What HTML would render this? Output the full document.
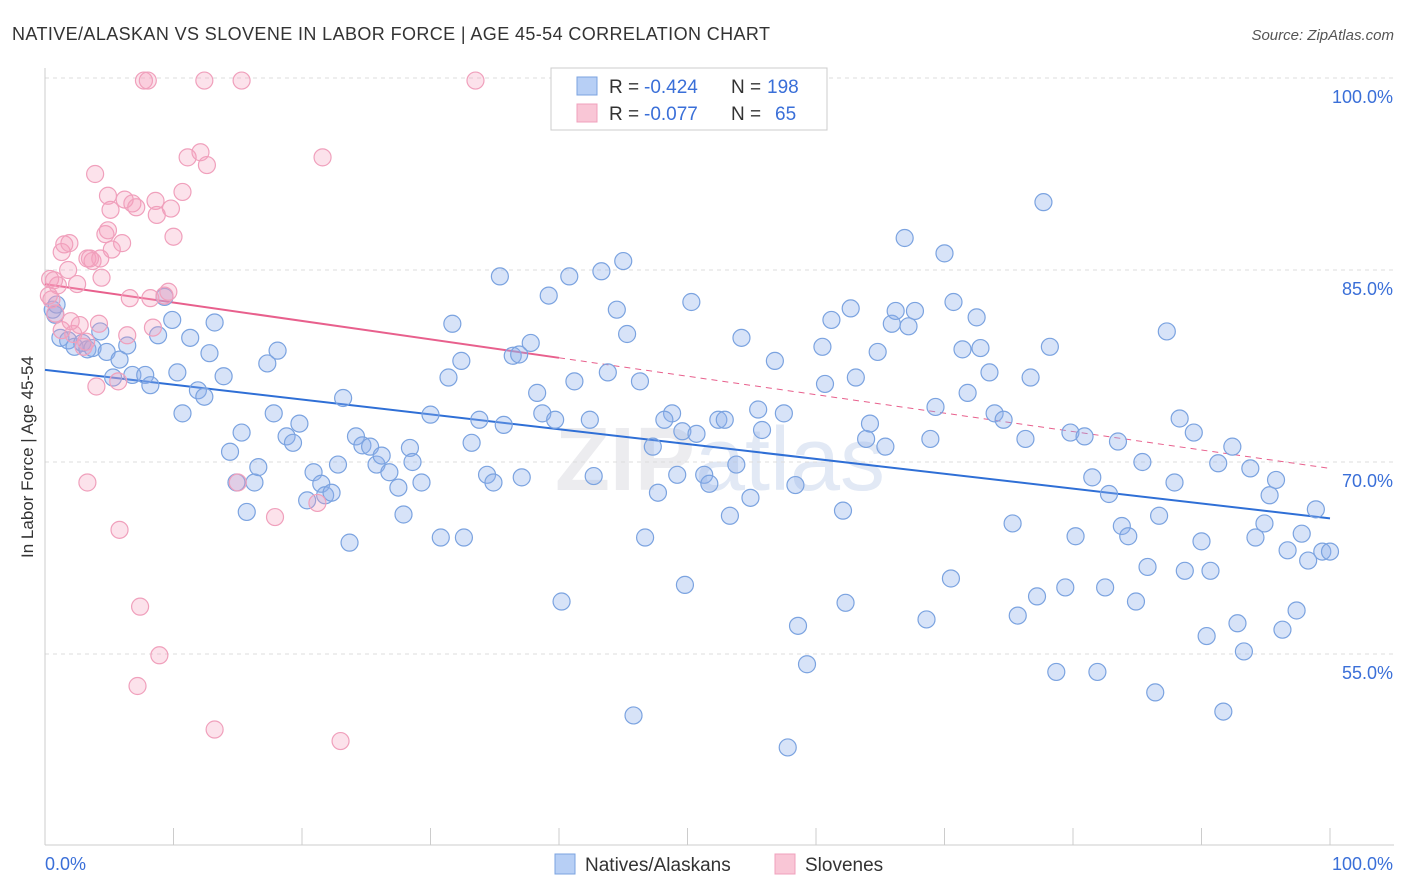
<!DOCTYPE html>
<html><head><meta charset="utf-8">
<style>
body{margin:0;background:#fff;font-family:"Liberation Sans",sans-serif;}
#wrap{position:relative;width:1406px;height:892px;overflow:hidden;}
</style></head>
<body>
<div id="wrap">
<svg id="chart" width="1406" height="892" xmlns="http://www.w3.org/2000/svg">
<text x="12" y="40" font-size="18" fill="#333" textLength="758" lengthAdjust="spacing">NATIVE/ALASKAN VS SLOVENE IN LABOR FORCE | AGE 45-54 CORRELATION CHART</text>
<text x="1394" y="40" font-size="15" fill="#555" font-style="italic" text-anchor="end">Source: ZipAtlas.com</text>
<text transform="translate(33,457) rotate(-90)" font-size="17" fill="#333" text-anchor="middle">In Labor Force | Age 45-54</text>
<text x="720" y="490" font-size="90" fill="#ececef" text-anchor="middle" font-weight="bold">ZIP<tspan font-weight="normal" fill="#e2e9f5">atlas</tspan></text>
<g id="grid"></g><g id="ticks"></g><g id="trend"></g><g id="pts"></g>
<g>
<rect x="551" y="68" width="276" height="62" fill="#fff" stroke="#ccc"/>
<rect x="577" y="77" width="20" height="18" fill="#b7cff5" stroke="#7ba3e0"/>
<rect x="577" y="104" width="20" height="18" fill="#f9c6d6" stroke="#f0a0bc"/>
<text x="609" y="93" font-size="19" fill="#333">R =</text>
<text x="644" y="93" font-size="19" fill="#3a6fd8">-0.424</text>
<text x="731" y="93" font-size="19" fill="#333">N =</text>
<text x="767" y="93" font-size="19" fill="#3a6fd8">198</text>
<text x="609" y="120" font-size="19" fill="#333">R =</text>
<text x="644" y="120" font-size="19" fill="#3a6fd8">-0.077</text>
<text x="731" y="120" font-size="19" fill="#333">N =</text>
<text x="775" y="120" font-size="19" fill="#3a6fd8">65</text>
</g>
<g>
<rect x="555" y="854" width="20" height="20" fill="#b7cff5" stroke="#7ba3e0"/>
<text x="585" y="871" font-size="19" fill="#333">Natives/Alaskans</text>
<rect x="775" y="854" width="20" height="20" fill="#f9c6d6" stroke="#f0a0bc"/>
<text x="805" y="871" font-size="19" fill="#333">Slovenes</text>
</g>
</svg>
</div>
<script>
const yTicks=[100,85,70,55];
const yTickLabels=["100.0%","85.0%","70.0%","55.0%"];
const xTickCount=10;
const xLabels=["0.0%","100.0%"];
const blueX=[0.8,1.2,1.8,2.3,2.9,3.3,3.7,4.3,4.8,5.3,5.8,6.4,6.8,7.8,8.2,8.8,9.3,9.9,10.3,10.7,11.3,11.9,12.4,13.2,12.8,13.9,14.4,14.9,15.3,15.7,16.3,16.6,17.3,18.1,17.8,18.8,19.3,19.8,20.4,20.9,21.5,21.8,22.3,22.8,23.2,23.7,24.2,24.7,25.3,25.8,26.2,26.8,27.5,27.9,28.4,28.6,29.3,30.0,30.8,31.4,31.7,32.4,32.6,33.2,33.8,34.4,34.9,35.4,35.7,36.4,36.9,37.1,37.8,38.3,38.7,39.2,39.7,40.2,40.8,41.2,42.4,42.7,43.3,43.8,44.5,45.0,45.3,45.8,46.3,46.7,47.3,47.7,48.8,48.2,49.2,49.6,49.8,50.3,50.7,51.3,51.7,52.4,52.9,53.3,53.8,54.2,54.9,55.5,55.8,56.8,57.5,57.8,58.4,58.6,59.3,60.5,60.7,61.2,62.1,62.3,62.7,63.1,63.9,64.2,64.8,65.4,65.9,66.2,66.9,67.2,67.7,68.6,68.9,69.3,70.0,70.5,70.7,71.4,71.8,72.5,72.8,73.5,73.9,74.6,75.3,75.7,76.3,76.7,77.2,77.7,78.2,78.7,79.4,79.8,80.2,80.9,81.5,81.9,82.5,82.8,83.5,83.8,84.3,84.9,85.4,85.8,86.4,86.7,87.3,87.9,88.3,88.7,89.4,90.0,90.4,90.7,91.3,91.7,92.4,92.8,93.3,93.8,94.2,94.9,95.3,95.8,96.3,96.7,97.4,97.8,98.3,98.9,99.4,100.0,0.6,0.9];
const blueY=[81.5,79.7,79.5,79.0,79.3,78.8,78.9,80.2,78.6,76.6,78.0,79.1,76.8,76.8,76.0,79.9,82.9,81.1,77.0,73.8,79.7,75.6,75.1,80.9,78.5,76.7,70.8,68.4,72.3,66.1,68.4,69.6,77.7,78.7,73.8,72.0,71.5,73.0,67.0,69.2,68.3,67.4,67.6,69.8,75.0,63.7,72.0,71.3,71.2,69.8,70.5,69.2,68.0,65.9,71.1,70.0,68.4,73.7,64.1,76.6,80.8,77.9,64.1,71.5,73.3,69.0,68.4,84.5,72.9,78.3,78.4,68.8,79.3,75.4,73.8,83.0,73.3,59.1,84.5,76.3,73.3,68.9,84.9,77.0,81.9,85.7,80.0,50.2,76.3,64.1,71.2,67.6,73.8,73.3,69.0,72.4,60.4,82.5,72.2,69.0,68.3,73.3,73.3,65.8,69.8,79.7,67.2,74.1,72.5,77.9,73.8,47.7,68.2,57.2,54.2,79.0,76.1,81.1,66.2,59.0,82.0,76.6,71.8,73.0,78.6,71.2,80.8,81.8,87.5,80.6,81.8,57.7,71.8,74.3,86.3,60.9,82.5,78.8,75.4,81.3,78.9,77.0,73.8,73.3,65.2,58.0,71.8,76.6,59.5,90.3,79.0,53.6,60.2,72.3,64.2,72.0,68.8,53.6,60.2,67.5,71.6,65.0,64.2,59.1,70.0,61.8,52.0,65.8,80.2,68.4,73.4,61.5,72.3,63.8,56.4,61.5,69.9,50.5,71.2,57.4,55.2,69.5,64.1,65.2,67.4,68.6,56.9,63.1,58.4,64.4,62.3,66.3,63.0,63.0,81.9,82.3];
const pinkX=[0.4,0.5,0.8,1.0,1.3,1.5,1.8,1.9,2.2,2.5,2.7,3.2,3.3,3.3,3.7,3.9,4.0,4.2,4.3,4.4,4.7,4.9,5.1,5.2,5.7,5.8,6.0,6.2,6.4,6.6,6.8,7.1,7.4,7.7,8.0,8.2,8.4,8.6,8.7,8.9,9.3,9.6,9.8,10.0,10.7,11.1,12.1,12.4,12.6,15.0,15.3,17.9,21.2,21.6,23.0,33.5,7.2,13.2,3.5,0.7,1.3,4.9,3.0,2.0,0.3];
const pinkY=[84.3,82.7,81.6,83.8,86.4,87.0,85.0,87.1,80.0,83.9,80.7,79.4,68.4,85.9,85.7,92.5,75.9,80.8,85.9,84.4,87.8,90.8,89.7,86.6,76.3,64.7,87.1,90.5,79.9,82.8,90.2,89.9,58.7,99.8,99.8,82.8,80.5,90.4,89.3,54.9,83.0,83.3,89.8,87.6,91.1,93.8,94.2,99.8,93.2,68.4,99.8,65.7,66.8,93.8,48.2,99.8,52.5,49.1,85.9,84.2,80.3,88.1,79.0,81.0,83.0];
const blueTrend=[77.2,65.6];
const pinkTrend=[83.9,69.5];
const pinkSolidEnd=40;

const NS="http://www.w3.org/2000/svg";
const X0=45,X1=1330,Y100=78,PXPER=12.8;
function sx(v){return X0+(X1-X0)*v/100;}
function sy(v){return Y100+(100-v)*PXPER;}
function mk(tag,attrs,parent){const e=document.createElementNS(NS,tag);for(const k in attrs)e.setAttribute(k,attrs[k]);parent.appendChild(e);return e;}
const grid=document.getElementById('grid'),ticks=document.getElementById('ticks'),trend=document.getElementById('trend'),pts=document.getElementById('pts');
yTicks.forEach((t,i)=>{
  const l=mk('line',{x1:X0,x2:1394,y1:sy(t),y2:sy(t),stroke:'#ddd','stroke-dasharray':'4,4'},grid);
  
  
  const tx=mk('text',{x:1393,y:sy(t)+25,'font-size':18,fill:'#3a6fd8','text-anchor':'end'},ticks);
  tx.textContent=yTickLabels[i];
  
  
});
const ax=mk('line',{x1:X0,x2:X0,y1:68,y2:845,stroke:'#ccc'},ticks);


const bx=mk('line',{x1:X0,x2:1394,y1:845,y2:845,stroke:'#ccc'},ticks);


for(let i=0;i<=xTickCount;i++){
  const t=mk('line',{x1:sx(i*10),x2:sx(i*10),y1:828,y2:845,stroke:'#ccc'},ticks);
  
  
}
[[0,'start',45],[100,'end',1393]].forEach((p,i)=>{
  const tx=mk('text',{x:p[2],y:870,'font-size':18,fill:'#3a6fd8','text-anchor':p[1]},ticks);
  tx.textContent=xLabels[i];
  
  
});
function circ(x,y,fill,stroke,name){
  const c=mk('circle',{cx:sx(x),cy:sy(y),r:8.5,fill:fill,stroke:stroke,'stroke-width':1.2},pts);
  
  
}
blueX.forEach((x,i)=>circ(x,blueY[i],'rgba(140,175,235,0.35)','#7ba3e0','native-point'));
pinkX.forEach((x,i)=>circ(x,pinkY[i],'rgba(245,160,190,0.3)','#f0a0bc','slovene-point'));
function lerp(a,t){return a[0]+(a[1]-a[0])*t/100;}
const bl=mk('line',{x1:sx(0),y1:sy(blueTrend[0]),x2:sx(100),y2:sy(blueTrend[1]),stroke:'#2f6fd6','stroke-width':2},trend);


const pl=mk('line',{x1:sx(0),y1:sy(pinkTrend[0]),x2:sx(pinkSolidEnd),y2:sy(lerp(pinkTrend,pinkSolidEnd)),stroke:'#e8608d','stroke-width':2},trend);


const pd=mk('line',{x1:sx(pinkSolidEnd),y1:sy(lerp(pinkTrend,pinkSolidEnd)),x2:sx(100),y2:sy(pinkTrend[1]),stroke:'#e8608d','stroke-width':1,'stroke-dasharray':'6,5'},trend);


</script>
</body></html>
